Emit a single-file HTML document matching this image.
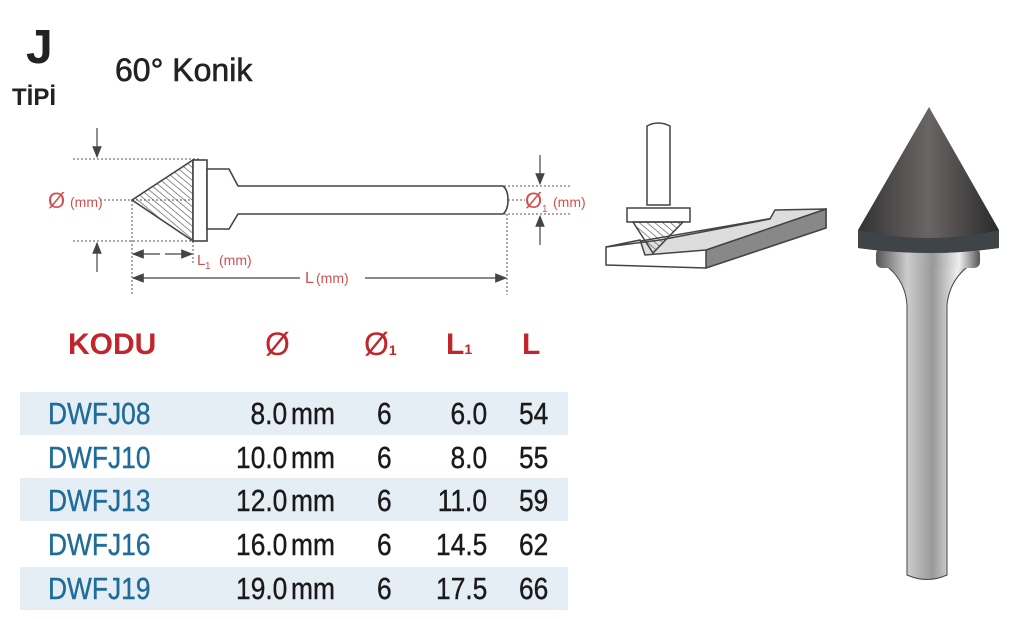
<!DOCTYPE html>
<html><head><meta charset="utf-8"><style>
body{margin:0;width:1024px;height:619px;background:#fff;position:relative;overflow:hidden;font-family:"Liberation Sans",sans-serif}
.a{position:absolute;white-space:nowrap}
.n{font-family:"Liberation Sans",sans-serif;font-size:31px;line-height:43px;transform:scaleX(0.85);transform-origin:left center;-webkit-text-stroke:0.4px currentColor}
.r{transform-origin:right center}
.band{position:absolute;left:20px;width:548px;height:43px;background:#e6eef5}
.c{color:#1f6c99;left:48px}
.k{color:#1a1a1a}
</style></head><body>
<div class="a" style="left:26px;top:20px;font-size:48px;font-weight:bold;color:#222">J</div>
<div class="a" style="left:12px;top:84px;font-size:24px;font-weight:bold;color:#222">TİPİ</div>
<div class="a" style="left:115px;top:52px;font-size:32px;color:#222;-webkit-text-stroke:0.6px #222">60° Konik</div>

<svg class="a" style="left:0;top:0" width="1024" height="619">
<defs><pattern id="h" width="5" height="5" patternUnits="userSpaceOnUse" patternTransform="rotate(-50)"><line x1="0" y1="0" x2="0" y2="5" stroke="#555" stroke-width="1.3"/></pattern>
<marker id="ar" markerWidth="10" markerHeight="8" refX="9" refY="4" orient="auto"><path d="M0,0L10,4L0,8z" fill="#444"/></marker></defs>
<g stroke="#555" stroke-dasharray="2,2" stroke-width="1" fill="none">
<line x1="73" y1="159" x2="200" y2="159"/><line x1="73" y1="241" x2="200" y2="241"/>
<line x1="100" y1="200" x2="525" y2="200"/>
<line x1="500" y1="186" x2="570" y2="186"/><line x1="500" y1="214" x2="570" y2="214"/>
<line x1="132" y1="200" x2="132" y2="295"/><line x1="193" y1="241" x2="193" y2="265"/><line x1="507" y1="214" x2="507" y2="295"/>
</g>
<g stroke="#444" stroke-width="1.2">
<line x1="97" y1="128" x2="97" y2="157" marker-end="url(#ar)"/>
<line x1="97" y1="272" x2="97" y2="243" marker-end="url(#ar)"/>
<line x1="540" y1="155" x2="540" y2="184" marker-end="url(#ar)"/>
<line x1="540" y1="245" x2="540" y2="216" marker-end="url(#ar)"/>
<line x1="160" y1="254" x2="133" y2="254" marker-end="url(#ar)"/><line x1="165" y1="254" x2="192" y2="254" marker-end="url(#ar)"/>
<line x1="300" y1="278" x2="133" y2="278" marker-end="url(#ar)"/><line x1="365" y1="278" x2="506" y2="278" marker-end="url(#ar)"/>
</g>
<g stroke="#444" stroke-width="1.6">
<path d="M132,200L193,160V241Z" fill="url(#h)"/>
<rect x="193" y="160" width="14" height="81" fill="#fff"/>
<path d="M207,169H229L238,186H503Q508,190 508,200Q508,210 503,214H238L229,229H207Z" fill="#fff"/>
</g>
<g fill="#d05050" font-family="Liberation Sans,sans-serif">
<text x="48" y="208" font-size="22">Ø</text><text x="70" y="207" font-size="14">(mm)</text>
<text x="525" y="208" font-size="22">Ø</text><text x="542" y="212" font-size="10">1</text><text x="553" y="207" font-size="14">(mm)</text>
<text x="197" y="265" font-size="15">L</text><text x="205" y="269" font-size="10">1</text><text x="219" y="265" font-size="14">(mm)</text>
<text x="305" y="283" font-size="16">L</text><text x="316" y="283" font-size="14">(mm)</text>
</g>
<g stroke="#444" stroke-width="1.5" fill="#fff">
<path d="M606,247L606,265L706,268L826,228L826,209Z" fill="#fff"/>
<path d="M706,268L706,250L826,209V228Z" fill="#888"/>
<path d="M606,247L640,240L645,255L706,250L826,209L775,210L770,219L660,240Z" fill="#ddd"/>
<path d="M647,205V126Q658,120 670,126V205Z"/>
<path d="M627,208H690V222H627Z"/>
<path d="M633,222L683,222L653,253Z" fill="url(#h)"/>
</g>
<defs>
<linearGradient id="sh" x1="0" x2="1"><stop offset="0" stop-color="#555"/><stop offset=".3" stop-color="#ccc"/><stop offset=".55" stop-color="#999"/><stop offset=".8" stop-color="#eee"/><stop offset="1" stop-color="#555"/></linearGradient>
<linearGradient id="cn" x1="0" x2="1"><stop offset="0" stop-color="#333"/><stop offset=".5" stop-color="#6a6565"/><stop offset="1" stop-color="#2a2a2a"/></linearGradient>
</defs>
<path d="M877,260Q905,275 907,305V575Q927,584 947,575V305Q950,275 978,260Z" fill="url(#sh)" stroke="#444"/>
<rect x="876" y="248" width="104" height="20" rx="6" fill="url(#sh)"/>
<path d="M929,107L858,230V248Q929,258 999,248V230Z" fill="url(#cn)"/>
<path d="M858,230Q929,246 999,230V248Q929,258 858,248Z" fill="#3e4448"/>
</svg>

<div class="a" style="left:68px;top:328px;font-size:30px;font-weight:bold;color:#c0262b">KODU</div>
<div class="a" style="left:265px;top:326px;font-size:32px;color:#c0262b">Ø</div>
<div class="a" style="left:364px;top:326px;font-size:32px;color:#c0262b">Ø<span style="font-size:14px;font-weight:bold">1</span></div>
<div class="a" style="left:446px;top:328px;font-size:30px;font-weight:bold;color:#c0262b">L<span style="font-size:14px">1</span></div>
<div class="a" style="left:522px;top:328px;font-size:30px;font-weight:bold;color:#c0262b">L</div>

<div class="band" style="top:392px"></div>
<div class="band" style="top:478px"></div>
<div class="band" style="top:567px"></div>

<div class="a n c" style="top:392px">DWFJ08</div>
<div class="a n c" style="top:436px">DWFJ10</div>
<div class="a n c" style="top:479px">DWFJ13</div>
<div class="a n c" style="top:523px">DWFJ16</div>
<div class="a n c" style="top:567px">DWFJ19</div>

<div class="a n k r" style="right:737px;top:392px">8.0</div>
<div class="a n k r" style="right:737px;top:436px">10.0</div>
<div class="a n k r" style="right:737px;top:479px">12.0</div>
<div class="a n k r" style="right:737px;top:523px">16.0</div>
<div class="a n k r" style="right:737px;top:567px">19.0</div>
<div class="a n k" style="left:291px;top:392px">mm</div>
<div class="a n k" style="left:291px;top:436px">mm</div>
<div class="a n k" style="left:291px;top:479px">mm</div>
<div class="a n k" style="left:291px;top:523px">mm</div>
<div class="a n k" style="left:291px;top:567px">mm</div>
<div class="a n k" style="left:377px;top:392px">6</div>
<div class="a n k" style="left:377px;top:436px">6</div>
<div class="a n k" style="left:377px;top:479px">6</div>
<div class="a n k" style="left:377px;top:523px">6</div>
<div class="a n k" style="left:377px;top:567px">6</div>
<div class="a n k r" style="right:537px;top:392px">6.0</div>
<div class="a n k r" style="right:537px;top:436px">8.0</div>
<div class="a n k r" style="right:537px;top:479px">11.0</div>
<div class="a n k r" style="right:537px;top:523px">14.5</div>
<div class="a n k r" style="right:537px;top:567px">17.5</div>
<div class="a n k" style="left:519px;top:392px">54</div>
<div class="a n k" style="left:519px;top:436px">55</div>
<div class="a n k" style="left:519px;top:479px">59</div>
<div class="a n k" style="left:519px;top:523px">62</div>
<div class="a n k" style="left:519px;top:567px">66</div>
</body></html>
